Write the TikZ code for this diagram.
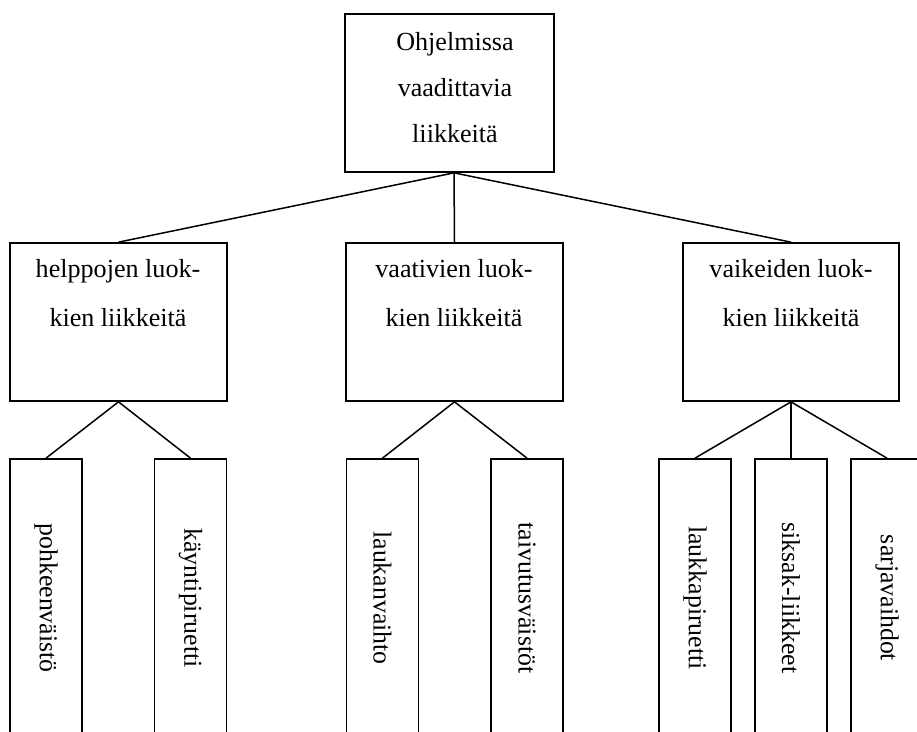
\documentclass[tikz,border=0pt]{standalone}
\usepackage{fontspec}
\setmainfont{Liberation Serif}
\usepackage{graphicx}
\begin{document}
\begin{tikzpicture}[x=1pt,y=-1pt,
  box/.style={draw, line width=1.7pt, inner sep=0pt},
  leaf/.style={box, minimum width=72pt, minimum height=278pt},
  midbox/.style={box, minimum width=217pt, minimum height=158pt},
  txt/.style={align=center, inner sep=0pt, anchor=north},
  toptxt/.style={txt, font=\fontsize{26.1}{46}\selectfont},
  midtxt/.style={txt, font=\fontsize{26.1}{49}\selectfont},
  leaftxt/.style={font=\fontsize{25.8}{32}\selectfont},
  conn/.style={line width=1.5pt}]
\clip (0,0) rectangle (917,731);
\fill[white] (0,0) rectangle (917,731);

% root
\node[box, minimum width=209pt, minimum height=158pt] (root) at (449.5,93) {};
\node[toptxt] (roottxt) at (455,32) {Ohjelmissa\\vaadittavia\\liikkeitä};
\coordinate (rootfoot) at ([xshift=4.5pt]root.south);

% level of difficulty
\node[midbox] (easy) at (118.5,322) {};
\node[midtxt] (easytxt) at (118,259) {helppojen luok-\\kien liikkeitä};
\node[midbox] (med) at (454.5,322) {};
\node[midtxt] (medtxt) at (454,259) {vaativien luok-\\kien liikkeitä};
\node[midbox, minimum width=216pt] (hard) at (791,322) {};
\node[midtxt] (hardtxt) at (791,259) {vaikeiden luok-\\kien liikkeitä};

% single movements
\node[leaf, leaftxt] (e1) at (46,598) {\rotatebox{-90}{pohkeenväistö}};
\node[leaf, leaftxt] (e2) at (190.5,598) {\rotatebox{-90}{käyntipiruetti}};
\node[leaf, leaftxt] (m1) at (382.5,598) {\rotatebox{-90}{laukanvaihto}};
\node[leaf, leaftxt] (m2) at (527,598) {\rotatebox{-90}{taivutusväistöt}};
\node[leaf, leaftxt] (h1) at (695,598) {\rotatebox{-90}{laukkapiruetti}};
\node[leaf, leaftxt] (h2) at (791,598) {\rotatebox{-90}{siksak-liikkeet}};
\node[leaf, leaftxt] (h3) at (887,598) {\rotatebox{-90}{sarjavaihdot}};

% connectors
\draw[conn] (rootfoot) -- (easy.north);
\draw[conn] (rootfoot) -- (med.north);
\draw[conn] (rootfoot) -- (hard.north);
\draw[conn] (easy.south) -- (e1.north);
\draw[conn] (easy.south) -- (e2.north);
\draw[conn] (med.south) -- (m1.north);
\draw[conn] (med.south) -- (m2.north);
\draw[conn] (hard.south) -- (h1.north);
\draw[conn] (hard.south) -- (h2.north);
\draw[conn] (hard.south) -- (h3.north);
\end{tikzpicture}
\end{document}
